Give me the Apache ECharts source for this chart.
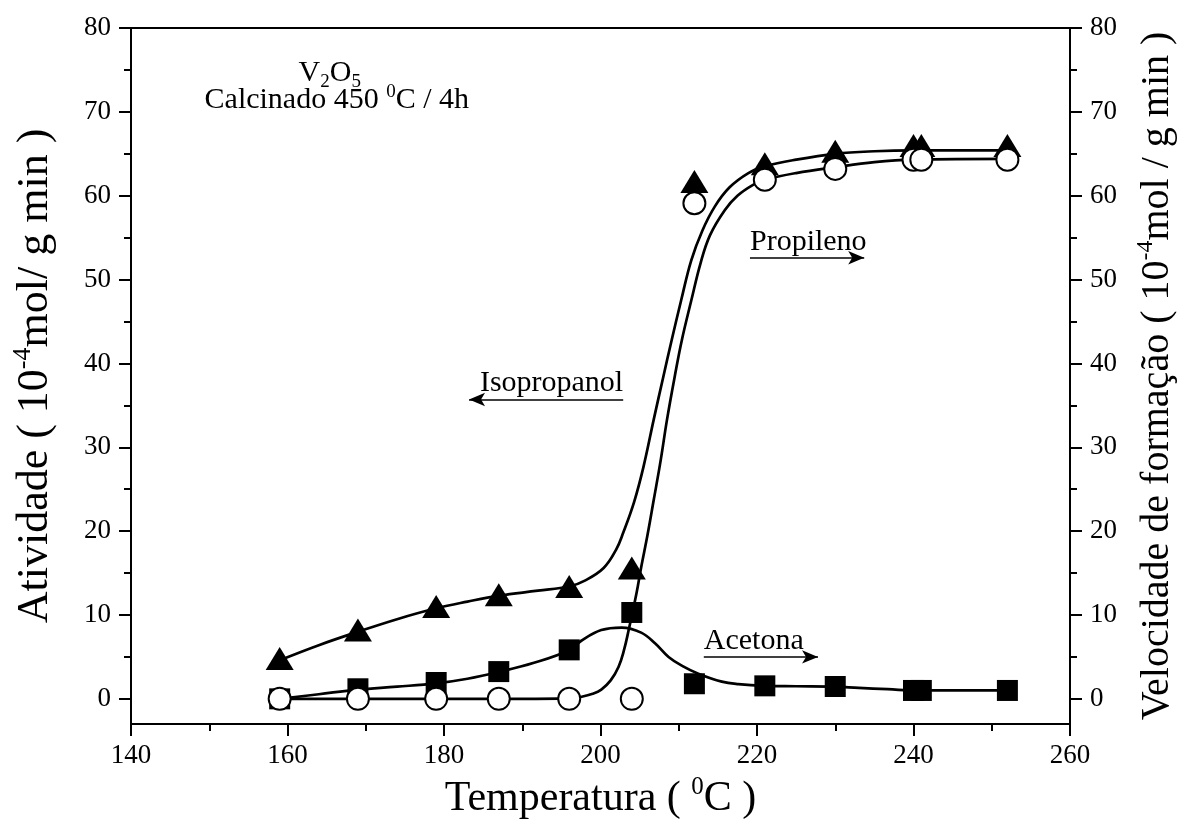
<!DOCTYPE html>
<html>
<head>
<meta charset="utf-8">
<script src="https://cdn.jsdelivr.net/npm/echarts@6/dist/echarts.min.js"></script>
<style>
  html, body { margin: 0; padding: 0; background: #fff; }
  #chart { width: 1185px; height: 830px; }
</style>
</head>
<body>
<div id="chart"></div>
<script>
// Reaction temperature (°C)
const temps = [159, 169, 179, 187, 196, 204, 212, 221, 230, 240, 241, 252];
// Isopropanol conversion activity (left axis)
const isopropanol = [4.8, 8.2, 11.0, 12.4, 13.4, 15.6, 61.7, 63.8, 65.3, 66.0, 66.0, 66.0];
// Propylene formation rate (right axis)
const propileno = [0, 0, 0, 0, 0, 0, 59.1, 61.9, 63.2, 64.3, 64.3, 64.3];
// Acetone formation rate (right axis)
const acetona = [0, 1.2, 1.95, 3.25, 5.84, 10.3, 1.8, 1.55, 1.47, 1.0, 1.0, 1.0];

// Fitted trend curves, [temperature, value]
const isoFit = [[159, 4.6], [164, 6.4], [169, 8.0], [174, 9.5], [179, 10.8], [183, 11.6], [187, 12.3],
  [192, 12.9], [196, 13.4], [198, 14.1], [200.4, 15.6], [202, 17.8], [202.9, 19.8], [204.3, 23.5],
  [205.5, 27.7], [206.8, 33.3], [208, 38.3], [209.1, 42.8], [210.3, 47.5], [211.6, 52.3], [213, 55.8],
  [214.6, 58.7], [216.5, 61.0], [218.9, 62.7], [221, 63.5], [225, 64.3], [230, 65.0], [235, 65.3],
  [240, 65.4], [252, 65.4]];
const propFit = [[159, 0], [170, 0], [180, 0], [190, 0], [196, 0.05], [197.6, 0.25], [199, 0.6],
  [200.1, 1.1], [201.3, 2.2], [202.3, 3.8], [203, 5.8], [203.6, 8.2], [204.6, 12.6], [205.2, 15.7],
  [206, 19.5], [206.8, 23.7], [207.7, 28.5], [208.5, 33.3], [209.5, 38.5], [210.4, 42.8], [211.6, 47.5],
  [212.8, 52.0], [214, 55.3], [215.9, 58.3], [217.5, 60.0], [219.5, 61.3], [221, 61.9], [225, 62.7],
  [230, 63.4], [235, 64.0], [240, 64.3], [252, 64.4]];
const acetFit = [[159, 0], [164, 0.55], [169, 1.1], [174, 1.45], [179, 1.85], [183, 2.4], [187, 3.2],
  [191.5, 4.3], [196, 5.8], [197.5, 6.9], [200.1, 8.2], [202.7, 8.5], [205.2, 7.9], [207, 6.6],
  [208.7, 5.0], [210.5, 3.9], [212.5, 3.0], [215.5, 2.05], [217.6, 1.75], [220.9, 1.55], [225, 1.5],
  [229.9, 1.45], [233, 1.3], [236.7, 1.15], [240.5, 1.0], [252, 1.0]];

// Axis tick values
const xTicks = { min: 140, max: 260, step: 20 };
const yMajor = [0, 10, 20, 30, 40, 50, 60, 70, 80];
const yMinor = [5, 15, 25, 35, 45, 55, 65, 75];

// Text notes: [temperature, value] anchors
const notePropileno = { text: 'Propileno', from: [219.1, 52.6], to: [233.7, 52.6] };
const noteIsopropanol = { text: 'Isopropanol', from: [202.9, 35.7], to: [183.2, 35.7] };
const noteAcetona = { text: 'Acetona', from: [213.2, 5.0], to: [227.8, 5.0] };
const headerPos = { oxide: [165.4, 74.6], calc: [149.4, 71.4] };

const FONT = '"Liberation Serif", "Times New Roman", serif';
const INK = '#000';

const titleRich = (size) => ({
  n: { fontSize: size, fontFamily: FONT, color: INK, lineHeight: size + 6 },
  s: { fontSize: Math.round(size * 0.6), fontFamily: FONT, color: INK, verticalAlign: 'top', lineHeight: Math.round(size * 0.55) }
});

function yAxisMain(side, nameText, gap, size) {
  return {
    type: 'value', position: side, min: -3, max: 80,
    axisLine: { show: true, onZero: false, lineStyle: { color: INK, width: 2 } },
    axisTick: { show: true, inside: false, length: 12, customValues: yMajor, lineStyle: { color: INK, width: 2 } },
    axisLabel: { show: true, customValues: yMajor, fontSize: 27, fontFamily: FONT, color: INK, margin: 20 },
    splitLine: { show: false },
    name: nameText, nameLocation: 'middle', nameGap: gap, nameRotate: 90,
    nameTextStyle: { rich: titleRich(size) }
  };
}
function yAxisMinor(side) {
  return {
    type: 'value', position: side, min: -3, max: 80,
    axisLine: { show: false },
    axisTick: { show: true, inside: false, length: 7, customValues: yMinor, lineStyle: { color: INK, width: 2 } },
    axisLabel: { show: false },
    splitLine: { show: false }
  };
}

const fitLine = (data, yIdx) => ({
  type: 'line', data, yAxisIndex: yIdx, showSymbol: false, symbol: 'none',
  smooth: 0.4, silent: true, z: 2,
  lineStyle: { color: INK, width: 2.7 }
});

const arrowLine = (note) => ({
  symbol: ['none', 'arrow'], symbolSize: [10, 16], silent: true,
  label: { show: false },
  lineStyle: { color: INK, width: 1.5, type: 'solid' },
  data: [[{ coord: note.from }, { coord: note.to }]]
});

const chart = echarts.init(document.getElementById('chart'), null, { renderer: 'canvas' });

chart.setOption({
  animation: false,
  backgroundColor: '#fff',
  grid: { left: 131, right: 112, top: 28, bottom: 106, containLabel: false },
  xAxis: [
    {
      type: 'value', position: 'bottom', min: xTicks.min, max: xTicks.max, interval: xTicks.step,
      axisLine: { show: true, onZero: false, lineStyle: { color: INK, width: 2 } },
      axisTick: { show: true, inside: false, length: 12, lineStyle: { color: INK, width: 2 } },
      minorTick: { show: true, splitNumber: 2, length: 7, lineStyle: { color: INK, width: 2 } },
      axisLabel: { fontSize: 27, fontFamily: FONT, color: INK, margin: 18 },
      splitLine: { show: false },
      name: '{n|Temperatura ( }{s|0}{n|C )}', nameLocation: 'middle', nameGap: 51,
      nameTextStyle: { rich: titleRich(42) }
    },
    {
      type: 'value', position: 'top', min: xTicks.min, max: xTicks.max, interval: xTicks.step,
      axisLine: { show: true, onZero: false, lineStyle: { color: INK, width: 2 } },
      axisTick: { show: false }, axisLabel: { show: false }, splitLine: { show: false }
    }
  ],
  yAxis: [
    yAxisMain('left', '{n|Atividade ( 10}{s|-4}{n|mol/ g min )}', 71, 44),
    yAxisMain('right', '{n|Velocidade de formação ( 10}{s|-4}{n|mol / g min )}', 64, 40),
    yAxisMinor('left'),
    yAxisMinor('right')
  ],
  series: [
    fitLine(isoFit, 0),
    fitLine(propFit, 1),
    fitLine(acetFit, 1),
    {
      name: 'Isopropanol', type: 'scatter', yAxisIndex: 0, z: 3,
      data: temps.map((t, i) => [t, isopropanol[i]]),
      symbol: 'triangle', symbolSize: [28, 23],
      itemStyle: { color: INK, opacity: 1 },
      markLine: arrowLine(noteIsopropanol)
    },
    {
      name: 'Acetona', type: 'scatter', yAxisIndex: 1, z: 4,
      data: temps.map((t, i) => [t, acetona[i]]),
      symbol: 'rect', symbolSize: 21,
      itemStyle: { color: INK, opacity: 1 },
      markLine: arrowLine(noteAcetona)
    },
    {
      name: 'Propileno', type: 'scatter', yAxisIndex: 1, z: 5,
      data: temps.map((t, i) => [t, propileno[i]]),
      symbol: 'circle', symbolSize: 22,
      itemStyle: { color: '#fff', borderColor: INK, borderWidth: 2, opacity: 1 },
      markLine: arrowLine(notePropileno)
    }
  ]
});

// Place the text notes using the chart's own coordinate conversion
function px(pt, yIdx) {
  return chart.convertToPixel({ xAxisIndex: 0, yAxisIndex: yIdx }, pt);
}
const pProp = px(notePropileno.from, 1);
const pIsoEnd = px(noteIsopropanol.from, 0);
const pAcet = px(noteAcetona.from, 1);
const pOxide = px(headerPos.oxide, 0);
const pCalc = px(headerPos.calc, 0);

const plain = { fontSize: 30, fontFamily: FONT, color: INK };
chart.setOption({
  graphic: [
    { type: 'text', x: pProp[0], y: pProp[1] - 1, silent: true,
      style: Object.assign({ text: notePropileno.text, align: 'left', verticalAlign: 'bottom' }, plain) },
    { type: 'text', x: pIsoEnd[0], y: pIsoEnd[1] - 1, silent: true,
      style: Object.assign({ text: noteIsopropanol.text, align: 'right', verticalAlign: 'bottom' }, plain) },
    { type: 'text', x: pAcet[0], y: pAcet[1] - 1, silent: true,
      style: Object.assign({ text: noteAcetona.text, align: 'left', verticalAlign: 'bottom' }, plain) },
    { type: 'text', x: pOxide[0], y: pOxide[1], silent: true,
      style: {
        text: '{n|V}{d|2}{n|O}{d|5}', align: 'center', verticalAlign: 'middle',
        rich: {
          n: { fontSize: 30, fontFamily: FONT, color: INK, lineHeight: 36 },
          d: { fontSize: 19, fontFamily: FONT, color: INK, verticalAlign: 'bottom', lineHeight: 18 }
        }
      } },
    { type: 'text', x: pCalc[0], y: pCalc[1], silent: true,
      style: {
        text: '{n|Calcinado 450 }{s|0}{n|C / 4h}', align: 'left', verticalAlign: 'middle',
        rich: {
          n: { fontSize: 30, fontFamily: FONT, color: INK, lineHeight: 36 },
          s: { fontSize: 19, fontFamily: FONT, color: INK, verticalAlign: 'top', lineHeight: 18 }
        }
      } }
  ]
});
</script>
</body>
</html>
